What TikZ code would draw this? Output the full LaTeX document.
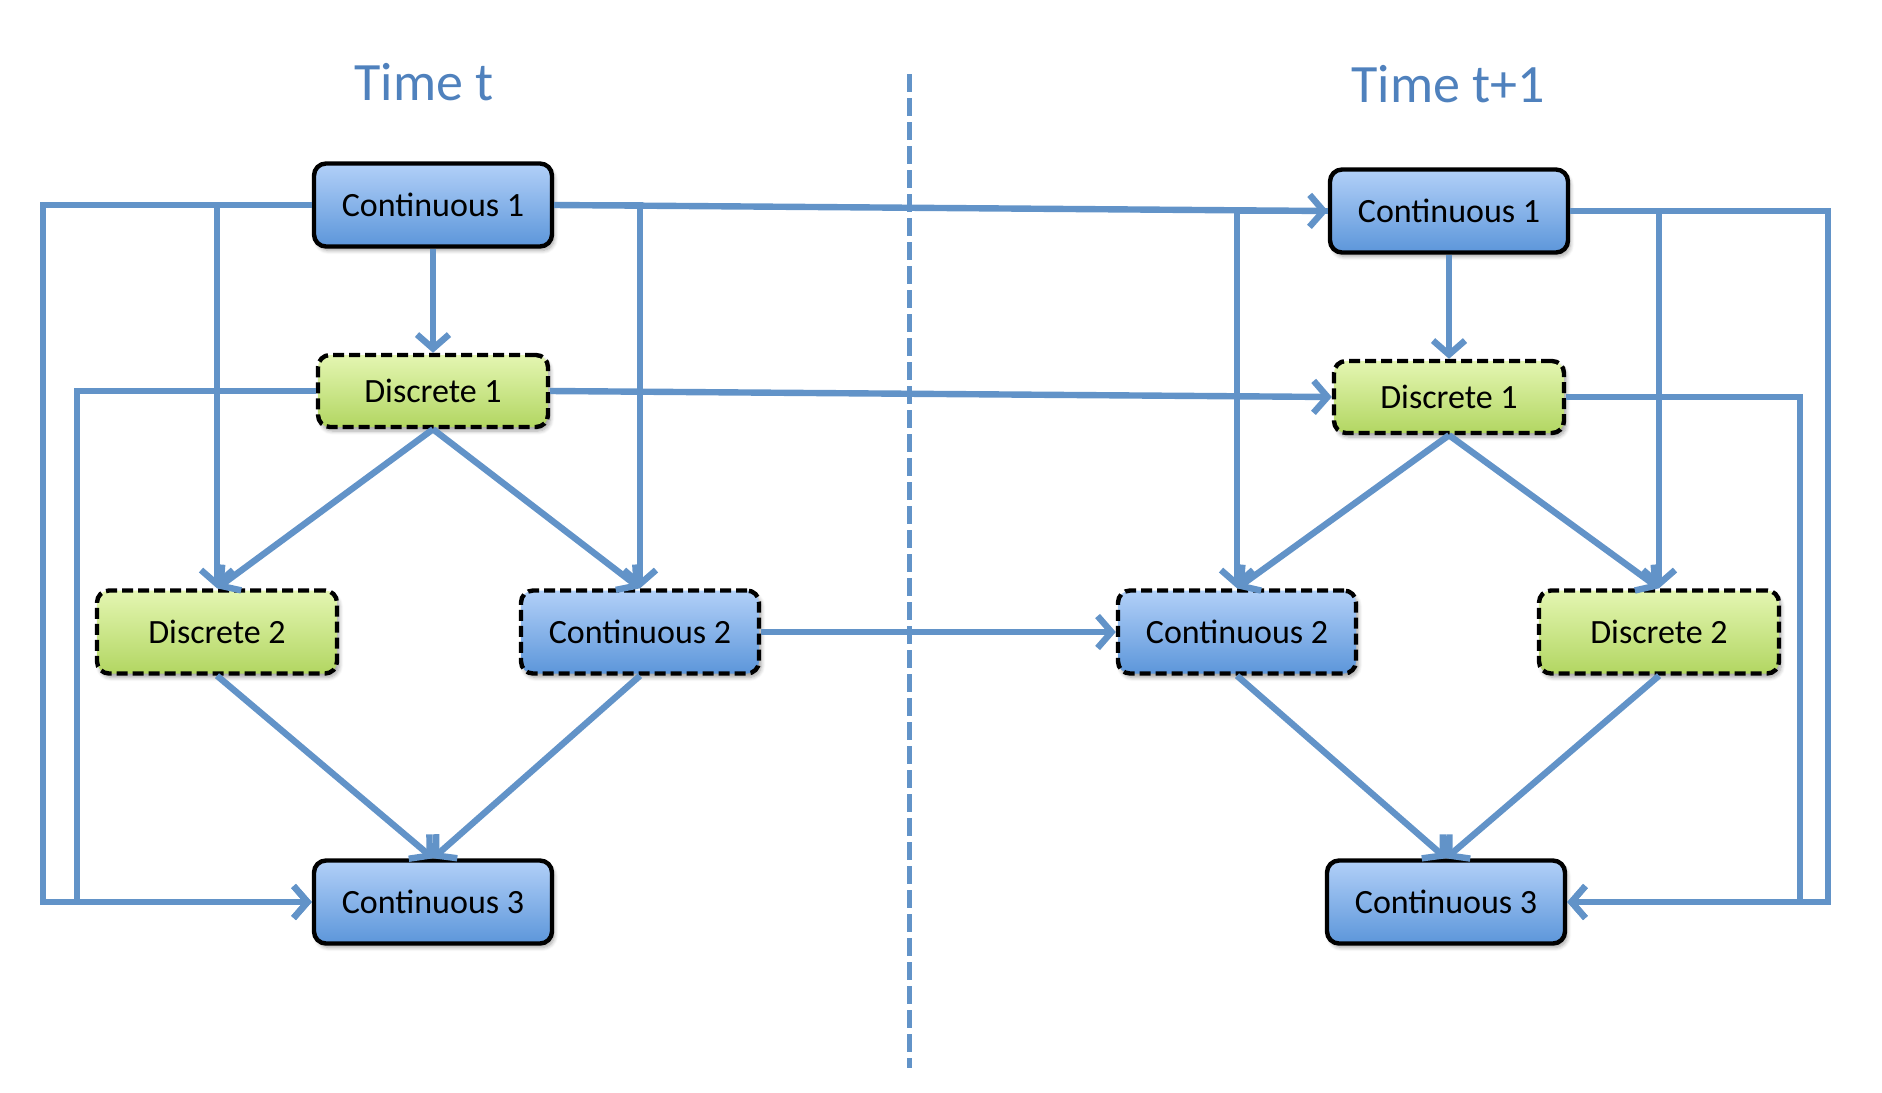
\documentclass[tikz,border=0pt]{standalone}
\usepackage{fontspec}
\setmainfont{Carlito}
\usetikzlibrary{arrows.meta,shadows.blur}
\definecolor{linkblue}{RGB}{98,147,200}
\definecolor{titleblue}{RGB}{79,129,189}
\definecolor{contTop}{RGB}{178,208,248}
\definecolor{contBot}{RGB}{92,150,218}
\definecolor{discTop}{RGB}{228,246,178}
\definecolor{discBot}{RGB}{178,214,98}
\begin{document}
\begin{tikzpicture}[x=0.5pt,y=-0.5pt,
  box/.style={rounded corners=6pt, draw=black, line width=2.2pt,
    minimum width=119pt, minimum height=41.5pt, inner sep=0pt,
    font=\fontsize{17}{20}\selectfont,
    blur shadow={shadow xshift=1.2pt,shadow yshift=-2pt,shadow blur steps=6,shadow opacity=35}},
  dashedbox/.style={dash pattern=on 5.5pt off 2.5pt},
  cont/.style={box, top color=contTop, bottom color=contBot},
  contd/.style={cont, dashedbox},
  disc/.style={box, dashedbox, top color=discTop, bottom color=discBot, minimum width=120pt},
  discsmall/.style={disc, minimum width=115pt, minimum height=36pt},
  conn/.style={draw=linkblue, line width=3.2pt,
    -{Straight Barb[length=7pt,width=16pt]}},
  title/.style={text=titleblue, font=\fontsize{27}{32}\selectfont}
]
\useasboundingbox (0,0) rectangle (1882,1092);

% titles and separator
\node[title] (tl) at (424,82) {Time t};
\node[title] (tr) at (1448,84) {Time t+1};
\coordinate (septop) at (909,74);
\coordinate (sepbot) at (909,1068);
\draw[linkblue, line width=2.5pt, dash pattern=on 9pt off 3pt] (septop) -- (sepbot);

% slice t
\node[cont]      (c1a) at (433,205) {Continuous 1};
\node[discsmall] (d1a) at (433,391) {Discrete 1};
\node[disc]      (d2a) at (217,632) {Discrete 2};
\node[contd]     (c2a) at (640,632) {Continuous 2};
\node[cont]      (c3a) at (433,902) {Continuous 3};

% slice t+1
\node[cont]      (c1b) at (1449,211) {Continuous 1};
\node[discsmall] (d1b) at (1449,397) {Discrete 1};
\node[contd]     (c2b) at (1237,632) {Continuous 2};
\node[disc]      (d2b) at (1659,632) {Discrete 2};
\node[cont]      (c3b) at (1446,902) {Continuous 3};

% loop corners
\coordinate (la) at (43,902);
\coordinate (lb) at (77,902);
\coordinate (ra) at (1828,902);
\coordinate (rb) at (1800,902);

% edges within slice t
\draw[conn] (c1a.west) -| (la) -- (c3a.west);
\draw[conn] (d1a.west) -| (lb) -- (c3a.west);
\draw[conn] (c1a.west) -| (d2a.north);
\draw[conn] (c1a.east) -| (c2a.north);
\draw[conn] (c1a) -- (d1a);
\draw[conn] (d1a.south) -- (d2a.north);
\draw[conn] (d1a.south) -- (c2a.north);
\draw[conn] (d2a.south) -- (c3a.north);
\draw[conn] (c2a.south) -- (c3a.north);

% edges between slices
\draw[conn] (c1a.east) -- (c1b.west);
\draw[conn] (d1a.east) -- (d1b.west);
\draw[conn] (c2a.east) -- (c2b.west);

% edges within slice t+1
\draw[conn] (c1b) -- (d1b);
\draw[conn] (c1b.west) -| (c2b.north);
\draw[conn] (c1b.east) -| (d2b.north);
\draw[conn] (d1b.south) -- (c2b.north);
\draw[conn] (d1b.south) -- (d2b.north);
\draw[conn] (c2b.south) -- (c3b.north);
\draw[conn] (d2b.south) -- (c3b.north);
\draw[conn] (c1b.east) -| (ra) -- (c3b.east);
\draw[conn] (d1b.east) -| (rb) -- (c3b.east);
\end{tikzpicture}
\end{document}
